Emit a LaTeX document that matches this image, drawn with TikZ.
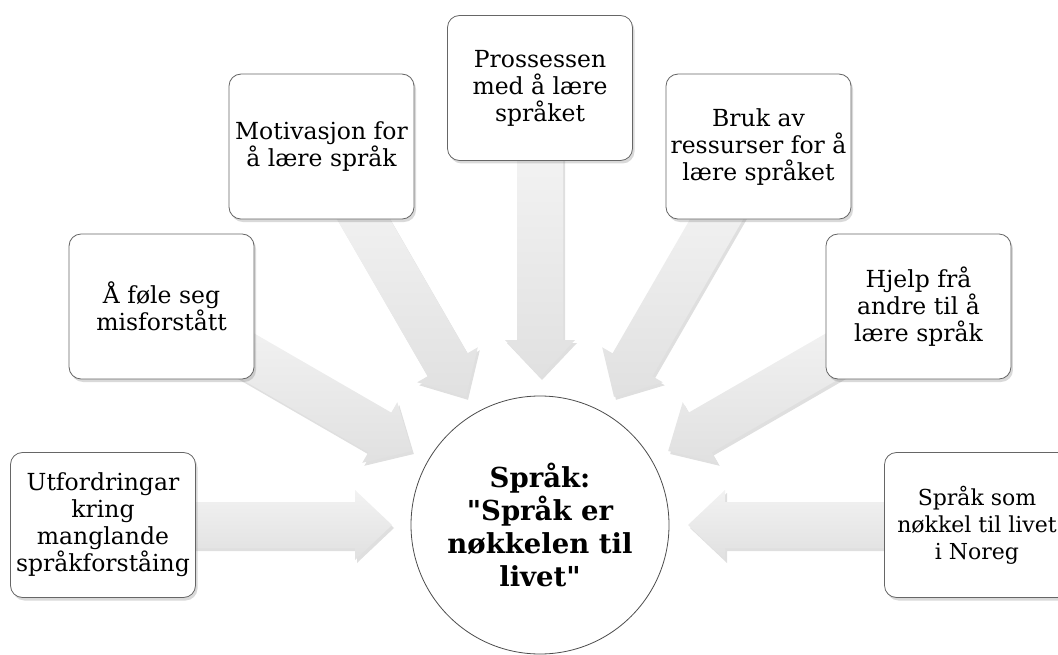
\documentclass[tikz,border=0pt]{standalone}
\usepackage{fontspec}
\setmainfont{DejaVu Serif}[Ligatures=TeXOff]
\usetikzlibrary{calc,shadows}
\pgfdeclarelayer{background}
\pgfsetlayers{background,main}
\begin{document}
\begin{tikzpicture}[x=1pt,y=1pt,
  box/.style={draw=black!60, line width=0.8pt, fill=white, rounded corners=12pt,
    minimum width=185pt, minimum height=145pt, align=center, inner sep=2pt,
    font=\fontsize{23.5}{27}\selectfont,
    drop shadow={opacity=0.3, shadow xshift=2pt, shadow yshift=-3pt}},
  hub/.style={circle, draw=black!70, line width=0.8pt, fill=white, minimum size=258pt,
    inner sep=0pt, align=center, font=\fontsize{27.5}{33}\selectfont\bfseries},
  blockarrow/.style={top color=black!5, bottom color=black!12, draw=none,
    drop shadow={opacity=0.25, shadow xshift=2pt, shadow yshift=-3pt}}
]
\useasboundingbox (0,0) rectangle (1058,-655);
\coordinate (C) at (540,-525);
\node[hub] (hub) at (C) {Språk:\\"Språk er\\nøkkelen til\\livet"};
\node[box] (b1) at ($(C)+(180:437pt)$) {Utfordringar\\kring\\manglande\\språkforståing};
\node[box] (b2) at ($(C)+(150:437pt)$) {Å føle seg\\misforstått};
\node[box] (b3) at ($(C)+(120:437pt)$) {Motivasjon for\\å lære språk};
\node[box] (b4) at ($(C)+(90:437pt)$) {Prossessen\\med å lære\\språket};
\node[box] (b5) at ($(C)+(60:437pt)$) {Bruk av\\ressurser for å\\lære språket};
\node[box] (b6) at ($(C)+(30:437pt)$) {Hjelp frå\\andre til å\\lære språk};
\node[box, font=\fontsize{22}{27}\selectfont] (b7) at ($(C)+(0:437pt)$) {Språk som\\nøkkel til livet\\i Noreg};
\begin{pgfonlayer}{background}
\foreach \i in {1,...,7}{
  \coordinate (s\i) at ($(hub.center)!370pt!(b\i.center)$);
  \coordinate (t\i) at ($(hub.center)!148pt!(b\i.center)$);
  \coordinate (h\i) at ($(t\i)!37pt!(s\i)$);
  \shade[blockarrow] ($(s\i)!23pt!90:(t\i)$) -- ($(h\i)!23pt!90:(t\i)$)
     -- ($(h\i)!35pt!90:(t\i)$) -- (t\i) -- ($(h\i)!35pt!-90:(t\i)$)
     -- ($(h\i)!23pt!-90:(t\i)$) -- ($(s\i)!23pt!-90:(t\i)$) -- cycle;
}
\end{pgfonlayer}
\end{tikzpicture}
\end{document}
